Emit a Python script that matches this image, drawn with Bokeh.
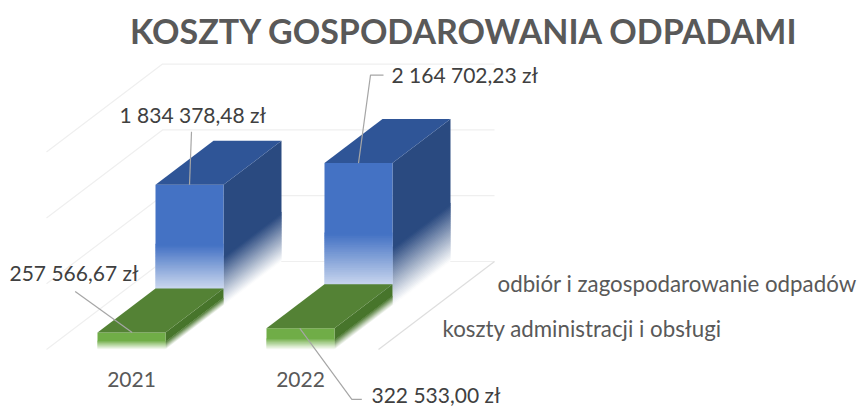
from bokeh.plotting import figure
from bokeh.models import Range1d
from bokeh.core.properties import value
from bokeh.embed import file_html
from bokeh.resources import INLINE

TITLE = "KOSZTY GOSPODAROWANIA ODPADAMI"
years = ["2021", "2022"]
series_names = ["koszty administracji i obsługi", "odbiór i zagospodarowanie odpadów"]
admin = [257566.67, 322533.00]
odbior = [1834378.48, 2164702.23]
admin_labels = ["257 566,67 zł", "322 533,00 zł"]
odbior_labels = ["1 834 378,48 zł", "2 164 702,23 zł"]
grid_values = [0, 1000000, 2000000, 3000000]

FONT = value("Lato")
X0, STEP, BAR_W = 97.0, 169.0, 68.0
DX, DY = 58.0, -44.0
BASE_Y, PX_PER_UNIT = 349.0, 65.8e-6
FLOOR_LEFT, FLOOR_RIGHT = 46.0, 378.0


def proj(x, z, v):
    return x + z * DX, BASE_Y + z * DY - v * PX_PER_UNIT


def mix(rgb, a):
    return "#%02x%02x%02x" % tuple(round(255 + (c - 255) * a) for c in rgb)


p = figure(width=862, height=408, x_range=Range1d(0, 862), y_range=Range1d(408, 0),
           output_backend="svg", toolbar_location=None, min_border=0,
           outline_line_color=None, background_fill_color="white",
           x_axis_location=None, y_axis_location=None)
p.grid.visible = False

GRID = "#efefef"
for v in grid_values:
    a = proj(FLOOR_LEFT, 0, v)
    b = proj(FLOOR_LEFT, 2, v)
    c = proj(FLOOR_RIGHT, 2, v)
    p.line([a[0], b[0], c[0]], [a[1], b[1], c[1]], line_color=GRID, line_width=1.2)
a = proj(FLOOR_RIGHT, 0, 0)
b = proj(FLOOR_RIGHT, 2, 0)
p.line([a[0], b[0]], [a[1], b[1]], line_color="#dedede", line_width=1.2)

BANDS = 80


def faded_face(x0, x1, z0, z1, v, rgb, start=0.5):
    """Side or front face with a vertical fade to white at its foot."""
    xs, ys, cols = [], [], []
    for k in range(BANDS):
        t0 = k / BANDS
        solid = t0 >= start
        t1 = 1.0 if solid else (k + 2) / BANDS
        A = proj(x0, z0, v * t0)
        B = proj(x1, z1, v * t0)
        C = proj(x1, z1, v * t1)
        D = proj(x0, z0, v * t1)
        xs.append([A[0], B[0], C[0], D[0]])
        ys.append([A[1], B[1], C[1], D[1]])
        cols.append(mix(rgb, min(1.0, (t0 + 0.5 / BANDS) / start)))
        if solid:
            break
    p.patches(xs, ys, fill_color=cols, line_color=None)


def top_face(x0, x1, z0, z1, v, color):
    pts = [proj(x0, z0, v), proj(x1, z0, v), proj(x1, z1, v), proj(x0, z1, v)]
    p.patch([q[0] for q in pts], [q[1] for q in pts], fill_color=color, line_color=None)


def box(i, z, v, front, side, top, start_front, start_side):
    x0 = X0 + i * STEP
    x1 = x0 + BAR_W
    faded_face(x1, x1, z, z + 1, v, side, start_side)
    faded_face(x0, x1, z, z, v, front, start_front)
    top_face(x0, x1, z, z + 1, v, top)


for i in range(len(years)):
    box(i, 1, odbior[i], (0x44, 0x72, 0xc4), (0x2a, 0x4a, 0x80), "#2f5597", 0.5, 0.4)
for i in range(len(years)):
    box(i, 0, admin[i], (0x70, 0xad, 0x47), (0x47, 0x75, 0x2b), "#548235", 0.5, 0.45)

LEAD = "#a6a6a6"
a0 = proj(X0 + BAR_W * 0.51, 0, admin[0])
a1 = proj(X0 + STEP + BAR_W * 0.49, 0, admin[1])
b0 = proj(X0 + BAR_W * 0.5, 1, odbior[0])
b1 = proj(X0 + STEP + BAR_W * 0.5, 1, odbior[1])
p.line([a0[0], a0[0] - 57], [a0[1], a0[1] - 41], line_color=LEAD, line_width=1.2)
p.line([a1[0], a1[0] + 52, a1[0] + 62], [a1[1], a1[1] + 71, a1[1] + 71], line_color=LEAD, line_width=1.2)
p.line([b0[0], b0[0] + 2], [b0[1], b0[1] - 53], line_color=LEAD, line_width=1.2)
p.line([b1[0], b1[0] + 12, b1[0] + 25], [b1[1], b1[1] - 88, b1[1] - 88], line_color=LEAD, line_width=1.2)


def label(x, y, s, size, color="#404040", align="left", style="normal"):
    p.text([x], [y], text=[s], text_font=FONT, text_font_size=size, text_color=color,
           text_align=align, text_baseline="middle", text_font_style=style)


label(464, 30, TITLE, "34px", "#595959", "center", "bold")
label(119, 114, odbior_labels[0], "21px")
label(391, 74, odbior_labels[1], "21px")
label(9, 272, admin_labels[0], "21px")
label(371, 394, admin_labels[1], "21px")
label(131, 379, years[0], "21px", "#595959", "center")
label(300, 379, years[1], "21px", "#595959", "center")
label(442, 328, series_names[0], "22.3px", "#595959")
label(497, 283, series_names[1], "22.3px", "#595959")

open("out.html", "w").write(file_html(p, INLINE))
